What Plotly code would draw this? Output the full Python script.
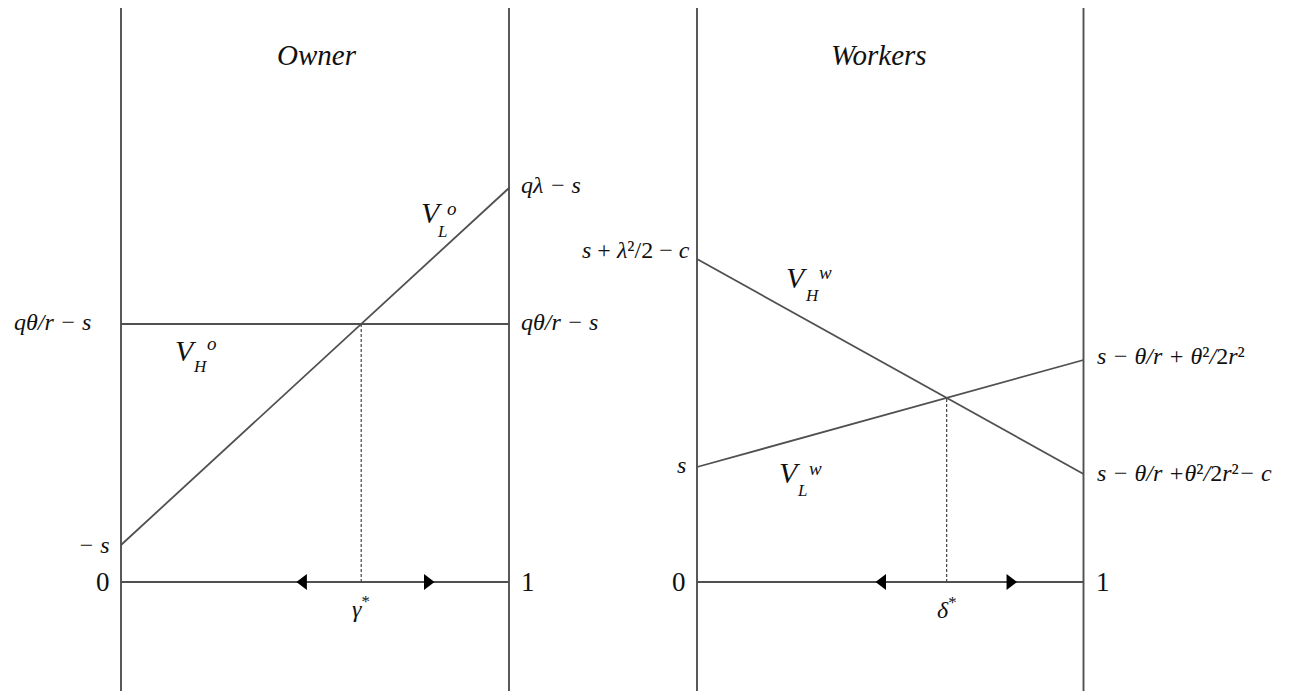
import plotly.graph_objects as go

# ---------------- data ----------------
share = [0, 1]                      # horizontal axis: share from 0 to 1
owner_VL = [0.37, 3.94]             # V_L^o : from -s to q*lambda - s
owner_VH = [2.58, 2.58]             # V_H^o : q*theta/r - s (flat)
workers_VH = [3.23, 1.08]           # V_H^w : from s+lambda^2/2-c to s-theta/r+theta^2/2r^2-c
workers_VL = [1.15, 2.22]           # V_L^w : from s to s-theta/r+theta^2/2r^2
owner_arrows = [0.47, 0.79]         # arrow positions on the 0-line (owner)
workers_arrows = [0.48, 0.81]       # arrow positions on the 0-line (workers)
frame_top = 5.75
frame_bottom = -1.3

# ---------------- layout constants ----------------
OFF = 8                      # page body margin
W, H = 1293 - OFF, 691 - OFF
Y_ZERO_PX = 582 - OFF
PX_PER_UNIT = 100.0
LINE = "#505050"
TXT = "#111111"
FONT = "Liberation Serif"

def cross(a, b):
    # intersection x of two straight lines on [0,1]
    return (b[0] - a[0]) / ((a[1] - a[0]) - (b[1] - b[0]))

gamma_star = cross(owner_VL, owner_VH)
delta_star = cross(workers_VH, workers_VL)
gamma_y = owner_VL[0] + gamma_star * (owner_VL[1] - owner_VL[0])
delta_y = workers_VH[0] + delta_star * (workers_VH[1] - workers_VH[0])

fig = go.Figure()

def add_line(x, y, ax, color=LINE, width=1.8, dash=None):
    fig.add_trace(go.Scatter(x=x, y=y, mode="lines", xaxis=ax, yaxis="y",
                             line=dict(color=color, width=width, dash=dash),
                             hoverinfo="skip", showlegend=False))

for ax, lo, hi, arrows, star, sy in [
    ("x", owner_VL, owner_VH, owner_arrows, gamma_star, gamma_y),
    ("x2", workers_VH, workers_VL, workers_arrows, delta_star, delta_y),
]:
    add_line([0, 0], [frame_bottom, frame_top], ax, width=1.9)
    add_line([1, 1], [frame_bottom, frame_top], ax, width=1.9)
    add_line(share, [0, 0], ax, width=1.9)
    add_line(share, lo, ax)
    add_line(share, hi, ax)
    add_line([star, star], [0, sy], ax, color="#444444", width=1.2, dash="3px,2px")
    fig.add_trace(go.Scatter(x=arrows, y=[0, 0], mode="markers", xaxis=ax, yaxis="y",
                             marker=dict(symbol=["triangle-left", "triangle-right"],
                                         size=14, color="black"),
                             hoverinfo="skip", showlegend=False))

def xrange_for(dom0, dom1, left_px, right_px):
    a = dom0 * W
    b = dom1 * W
    s = right_px - left_px
    return [(a - left_px) / s, (b - left_px) / s]

y_lo = (Y_ZERO_PX - H) / PX_PER_UNIT
y_hi = Y_ZERO_PX / PX_PER_UNIT

hidden = dict(visible=False, showgrid=False, zeroline=False, fixedrange=True)
fig.update_layout(
    width=W, height=H,
    margin=dict(l=0, r=0, t=0, b=0),
    paper_bgcolor="white", plot_bgcolor="rgba(0,0,0,0)",
    font=dict(family=FONT, color=TXT),
    xaxis=dict(domain=[0, 0.5], range=xrange_for(0, 0.5, 121 - OFF, 509 - OFF), **hidden),
    xaxis2=dict(domain=[0.5, 1], range=xrange_for(0.5, 1, 697 - OFF, 1083.5 - OFF),
                anchor="y", **hidden),
    yaxis=dict(domain=[0, 1], range=[y_lo, y_hi], **hidden),
    showlegend=False,
)

def px(xp):
    return (xp - OFF) / W

def py(yp):
    return 1 - (yp - OFF) / H

def note(text, x, y, size=24, xanchor="center", yanchor="middle", xref="paper", yref="paper",
         xshift=0, yshift=0):
    fig.add_annotation(text=text, x=x, y=y, xref=xref, yref=yref, showarrow=False,
                       xanchor=xanchor, yanchor=yanchor, xshift=xshift, yshift=yshift,
                       font=dict(family=FONT, size=size, color=TXT))

# titles
note("<i>Owner</i>", px(317), py(55), size=29)
note("<i>Workers</i>", px(879), py(55), size=29)

# owner endpoint labels
note("<i>qλ − s</i>", 1, owner_VL[1], xref="x", yref="y", xanchor="left", xshift=10, yshift=3)
note("<i>qθ/r − s</i>", 1, owner_VH[1], xref="x", yref="y", xanchor="left", xshift=10, yshift=2)
note("<i>qθ/r − s</i>", 0, owner_VH[0], xref="x", yref="y", xanchor="right", xshift=-28, yshift=2)
note("<i>− s</i>", 0, owner_VL[0], xref="x", yref="y", xanchor="right", xshift=-9)
note("0", 0, 0, xref="x", yref="y", xanchor="right", xshift=-9, size=27)
note("1", 1, 0, xref="x", yref="y", xanchor="left", xshift=10, size=27)
note("<i>γ</i><sup>*</sup>", gamma_star, 0, xref="x", yref="y", yshift=-25, size=24)

# owner curve labels
note("<i>V</i>", px(186), py(350), size=30)
note("<i>H</i>", px(200), py(366), size=17)
note("<i>o</i>", px(212), py(343), size=19)
note("<i>V</i>", px(432), py(212), size=30)
note("<i>L</i>", px(442), py(231), size=17)
note("<i>o</i>", px(452), py(208), size=19)

# workers endpoint labels
note("<i>s</i> + <i>λ</i>²/2 − <i>c</i>", 0, workers_VH[0], xref="x2", yref="y",
     xanchor="right", xshift=-5, yshift=9)
note("<i>s</i>", 0, workers_VL[0], xref="x2", yref="y", xanchor="right", xshift=-9, yshift=2)
note("<i>s − θ/r + θ</i>²<i>/</i>2<i>r</i>²", 1, workers_VL[1], xref="x2", yref="y",
     xanchor="left", xshift=11, yshift=4)
note("<i>s − θ/r +θ</i>²<i>/</i>2<i>r</i>²<i>− c</i>", 1, workers_VH[1], xref="x2", yref="y",
     xanchor="left", xshift=11, yshift=1)
note("0", 0, 0, xref="x2", yref="y", xanchor="right", xshift=-9, size=27)
note("1", 1, 0, xref="x2", yref="y", xanchor="left", xshift=10, size=27)
note("<i>δ</i><sup>*</sup>", delta_star, 0, xref="x2", yref="y", yshift=-26, size=24)

# workers curve labels
note("<i>V</i>", px(797), py(278), size=30)
note("<i>H</i>", px(812), py(295), size=17)
note("<i>w</i>", px(825), py(273), size=19)
note("<i>V</i>", px(790), py(472), size=30)
note("<i>L</i>", px(802), py(490), size=17)
note("<i>w</i>", px(815), py(468), size=19)

fig.write_html("out.html")
